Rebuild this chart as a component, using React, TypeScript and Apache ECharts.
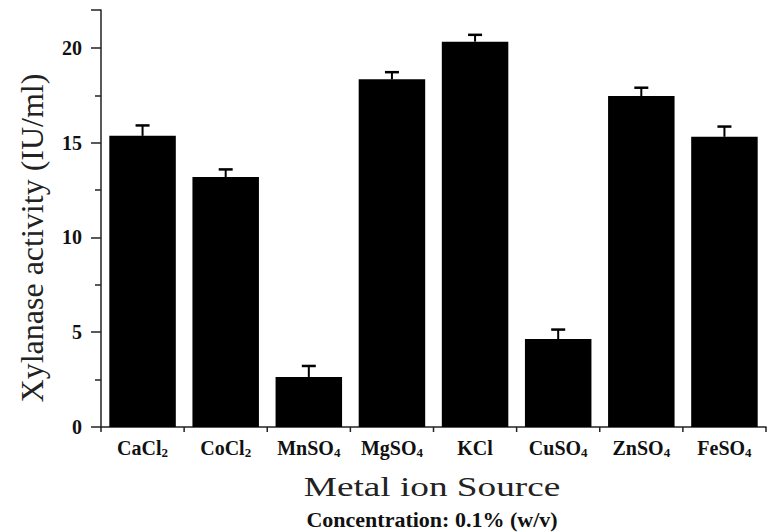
import React, { useEffect, useRef } from "react";
import * as echarts from "echarts";

// Metal salts; digits are drawn as subscripts
const categories = ["CaCl2", "CoCl2", "MnSO4", "MgSO4", "KCl", "CuSO4", "ZnSO4", "FeSO4"];
// Xylanase activity (IU/ml) and standard error
const activity = [15.36, 13.19, 2.64, 18.34, 20.33, 4.64, 17.46, 15.31];
const errors = [0.55, 0.4, 0.58, 0.38, 0.36, 0.5, 0.44, 0.54];
const yTicks = [0, 5, 10, 15, 20];

const SERIF = "'Liberation Serif', 'Times New Roman', serif";

export default function App() {
  const ref = useRef<HTMLDivElement>(null);

  useEffect(() => {
    if (!ref.current) return;
    const chart = echarts.init(ref.current, null, { renderer: "svg" });
    chart.setOption({
      animation: false,
      grid: { left: 101, right: 3, top: 10, bottom: 105, containLabel: false },
      xAxis: {
        type: "category",
        data: categories,
        axisLine: { lineStyle: { color: "#222", width: 1.5 } },
        axisTick: { alignWithLabel: true, length: 9, lineStyle: { color: "#222", width: 1.5 } },
        axisLabel: {
          interval: 0,
          margin: 10,
          fontFamily: SERIF,
          fontWeight: "bold",
          fontSize: 20,
          color: "#111",
          lineHeight: 22,
          formatter: (v: string) => v.replace(/(\d)/g, "{s|$1}"),
          rich: {
            s: {
              fontFamily: SERIF,
              fontWeight: "bold",
              fontSize: 13,
              color: "#111",
              lineHeight: 13,
              padding: [13, 0, 0, 0],
              verticalAlign: "bottom",
            },
          },
        },
      },
      yAxis: {
        type: "value",
        min: 0,
        max: 22,
        interval: 5,
        splitLine: { show: false },
        axisLine: { show: true, lineStyle: { color: "#222", width: 1.5 } },
        axisTick: { show: true, length: 10, lineStyle: { color: "#222", width: 1.5 } },
        minorTick: { show: true, splitNumber: 2, length: 6, lineStyle: { color: "#222", width: 1.5 } },
        axisLabel: {
          margin: 19,
          fontFamily: SERIF,
          fontWeight: "bold",
          fontSize: 20,
          color: "#111",
          formatter: (v: number) => (yTicks.includes(v) ? String(v) : ""),
        },
      },
      series: [
        {
          type: "bar",
          data: activity,
          barWidth: "80%",
          itemStyle: { color: "#000" },
        },
        {
          // upper error bars with caps
          type: "custom",
          data: activity.map((v, i) => [i, v, errors[i]]),
          renderItem: (_params: any, api: any) => {
            const i = api.value(0);
            const v = api.value(1);
            const e = api.value(2);
            const base = api.coord([i, v]);
            const top = api.coord([i, v + e]);
            const half = 7;
            return {
              type: "group",
              children: [
                {
                  type: "line",
                  shape: { x1: base[0], y1: base[1], x2: top[0], y2: top[1] },
                  style: { stroke: "#000", lineWidth: 2 },
                },
                {
                  type: "line",
                  shape: { x1: top[0] - half, y1: top[1], x2: top[0] + half, y2: top[1] },
                  style: { stroke: "#000", lineWidth: 2.5 },
                },
              ],
            };
          },
          z: 3,
        },
        {
          // short ticks on the category boundaries
          type: "custom",
          data: [0, 1, 2, 3, 4, 5, 6, 7, 8].map((i) => [i]),
          clip: false,
          renderItem: (_params: any, api: any) => {
            const i = api.value(0);
            const band = api.size([1, 0])[0];
            const ref0 = api.coord([Math.min(i, 7), 0]);
            const x = ref0[0] + (i === 8 ? band / 2 : -band / 2);
            return {
              type: "line",
              shape: { x1: x, y1: ref0[1], x2: x, y2: ref0[1] + 5 },
              style: { stroke: "#222", lineWidth: 1.5 },
            };
          },
          z: 3,
        },
      ],
      graphic: [
        {
          type: "text",
          x: 32,
          y: 238,
          rotation: Math.PI / 2,
          style: {
            text: "Xylanase activity (IU/ml)",
            font: `32px ${SERIF}`,
            fill: "#222",
            align: "center",
            verticalAlign: "middle",
          },
        },
        {
          type: "text",
          x: 432,
          y: 487,
          scaleX: 1.38,
          style: {
            text: "Metal ion Source",
            font: `27px ${SERIF}`,
            fill: "#222",
            align: "center",
            verticalAlign: "middle",
          },
        },
        {
          type: "text",
          x: 432,
          y: 519,
          style: {
            text: "Concentration: 0.1% (w/v)",
            font: `bold 22px ${SERIF}`,
            fill: "#111",
            align: "center",
            verticalAlign: "middle",
          },
        },
      ],
    });
    return () => chart.dispose();
  }, []);

  return (
    <div
      ref={ref}
      style={{ position: "absolute", left: 0, top: 0, width: 769, height: 532 }}
    />
  );
}
